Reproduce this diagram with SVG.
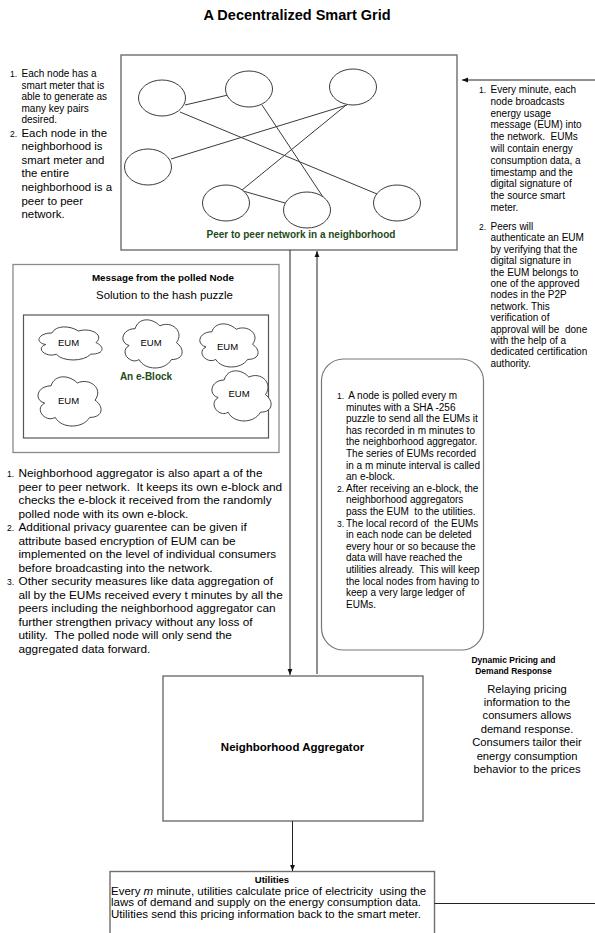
<svg xmlns="http://www.w3.org/2000/svg" width="595" height="933" viewBox="0 0 595 933">
<style>
text{font-family:"Liberation Sans",Arial,sans-serif;fill:#000;white-space:pre}
.b{font-weight:bold}
.g{fill:#1f4a1a;font-weight:bold;font-size:10px}
.box{fill:#fff;stroke:#6e6e6e;stroke-width:1.4}
.ell{fill:#fff;stroke:#3c3c3c;stroke-width:1}
.edge{stroke:#3a3a3a;stroke-width:1;fill:none}
.conn{stroke:#222;stroke-width:1;fill:none}
.cloud{fill:#fff;stroke:#444;stroke-width:1}
.num{font-size:8.5px}
.t10{font-size:10px}
.eum{font-size:9.5px}
</style>
<defs>
<marker id="ah" viewBox="0 0 10 10" refX="10" refY="5" markerWidth="6" markerHeight="6" orient="auto" markerUnits="userSpaceOnUse">
<path d="M0,1 L10,5 L0,9 Z" fill="#111"/>
</marker>
<path id="cl" vector-effect="non-scaling-stroke" d="M25 25 C5 25 0 50 16 55 C0 66 18 90 31 80 C40 100 70 100 80 80 C100 80 100 60 87.5 50 C100 30 80 10 62.5 20 C50 5 30 5 25 25 Z"/>
</defs>
<rect width="595" height="933" fill="#fff"/>

<text id="title" class="b" x="297" y="20" font-size="14.5" text-anchor="middle">A Decentralized Smart Grid</text>

<g id="p2p-network">
<rect class="box" x="121" y="55" width="336" height="195"/>
<g id="p2p-edges">
<line class="edge" x1="185" y1="105" x2="228" y2="95"/>
<line class="edge" x1="180" y1="112" x2="377" y2="194"/>
<line class="edge" x1="262" y1="105" x2="323" y2="197"/>
<line class="edge" x1="171" y1="159" x2="347" y2="105"/>
<line class="edge" x1="345" y1="106" x2="242" y2="190"/>
<line class="edge" x1="243" y1="191" x2="285" y2="203"/>
</g>
<ellipse id="n1" class="ell" cx="162" cy="98" rx="23.5" ry="18"/>
<ellipse id="n2" class="ell" cx="249" cy="89" rx="23.5" ry="18"/>
<ellipse id="n3" class="ell" cx="353" cy="87" rx="23.5" ry="18"/>
<ellipse id="n4" class="ell" cx="148" cy="167" rx="23.5" ry="18"/>
<ellipse id="n5" class="ell" cx="226" cy="203" rx="23.5" ry="18"/>
<ellipse id="n6" class="ell" cx="307" cy="210" rx="23.5" ry="18"/>
<ellipse id="n7" class="ell" cx="397" cy="203" rx="23.5" ry="18"/>
<text class="g" x="301" y="238" text-anchor="middle">Peer to peer network in a neighborhood</text>
</g>

<g id="note-left-top">
<text class="num" x="10" y="77">1.</text>
<text class="t10" x="21.5" y="77">Each node has a</text>
<text class="t10" x="21.5" y="88.5">smart meter that is</text>
<text class="t10" x="21.5" y="100">able to generate as</text>
<text class="t10" x="21.5" y="111.5">many key pairs</text>
<text class="t10" x="21.5" y="123">desired.</text>
<text class="num" x="10" y="136.5">2.</text>
<g font-size="11.4">
<text x="21.5" y="136.5">Each node in the</text>
<text x="21.5" y="150.1">neighborhood is</text>
<text x="21.5" y="163.7">smart meter and</text>
<text x="21.5" y="177.3">the entire</text>
<text x="21.5" y="190.9">neighborhood is a</text>
<text x="21.5" y="204.5">peer to peer</text>
<text x="21.5" y="218.1">network.</text>
</g>
</g>

<g id="note-right-top">
<text class="num" x="479" y="93">1.</text>
<g class="t10">
<text x="490.5" y="93">Every minute, each</text>
<text x="490.5" y="104.8">node broadcasts</text>
<text x="490.5" y="116.6">energy usage</text>
<text x="490.5" y="128.4">message (EUM) into</text>
<text x="490.5" y="140.2">the network.  EUMs</text>
<text x="490.5" y="152">will contain energy</text>
<text x="490.5" y="163.8">consumption data, a</text>
<text x="490.5" y="175.6">timestamp and the</text>
<text x="490.5" y="187.4">digital signature of</text>
<text x="490.5" y="199.2">the source smart</text>
<text x="490.5" y="211">meter.</text>
</g>
<text class="num" x="479" y="230">2.</text>
<g class="t10">
<text x="490.5" y="230">Peers will</text>
<text x="490.5" y="241.4">authenticate an EUM</text>
<text x="490.5" y="252.8">by verifying that the</text>
<text x="490.5" y="264.2">digital signature in</text>
<text x="490.5" y="275.6">the EUM belongs to</text>
<text x="490.5" y="287">one of the approved</text>
<text x="490.5" y="298.4">nodes in the P2P</text>
<text x="490.5" y="309.8">network. This</text>
<text x="490.5" y="321.2">verification of</text>
<text x="490.5" y="332.6">approval will be  done</text>
<text x="490.5" y="344">with the help of a</text>
<text x="490.5" y="355.4">dedicated certification</text>
<text x="490.5" y="366.8">authority.</text>
</g>
</g>

<g id="polled-message">
<rect x="13" y="264.5" width="266" height="188" fill="#fff" stroke="#8a8a8a" stroke-width="1.3"/>
<text class="b" x="163" y="280.5" font-size="9.8" text-anchor="middle">Message from the polled Node</text>
<text x="164.5" y="299" font-size="11.4" text-anchor="middle">Solution to the hash puzzle</text>
</g>

<g id="e-block">
<rect x="23.5" y="315" width="245" height="123" fill="#fff" stroke="#555" stroke-width="1.2"/>
<text class="g" x="146" y="379.5" text-anchor="middle">An e-Block</text>
<g id="eum1"><use href="#cl" class="cloud" transform="translate(34.4,323.3) scale(0.704,0.386)"/><text class="eum" x="68.5" y="346" text-anchor="middle">EUM</text></g>
<g id="eum2"><use href="#cl" class="cloud" transform="translate(118.6,314.6) scale(0.661,0.562)"/><text class="eum" x="151" y="346" text-anchor="middle">EUM</text></g>
<g id="eum3"><use href="#cl" class="cloud" transform="translate(195.6,319.2) scale(0.65,0.503)"/><text class="eum" x="227.5" y="350" text-anchor="middle">EUM</text></g>
<g id="eum4"><use href="#cl" class="cloud" transform="translate(33.4,371.5) scale(0.704,0.574)"/><text class="eum" x="68.5" y="404" text-anchor="middle">EUM</text></g>
<g id="eum5"><use href="#cl" class="cloud" transform="translate(207.6,365.4) scale(0.661,0.585)"/><text class="eum" x="239" y="397" text-anchor="middle">EUM</text></g>
</g>

<g id="note-left-bottom" font-size="11.8">
<text class="num" x="7" y="477">1.</text>
<text x="18.5" y="477">Neighborhood aggregator is also apart a of the</text>
<text x="18.5" y="490.5">peer to peer network.  It keeps its own e-block and</text>
<text x="18.5" y="504">checks the e-block it received from the randomly</text>
<text x="18.5" y="517.5">polled node with its own e-block.</text>
<text class="num" x="7" y="531">2.</text>
<text x="18.5" y="531">Additional privacy guarentee can be given if</text>
<text x="18.5" y="544.5">attribute based encryption of EUM can be</text>
<text x="18.5" y="558">implemented on the level of individual consumers</text>
<text x="18.5" y="571.5">before broadcasting into the network.</text>
<text class="num" x="7" y="585">3.</text>
<text x="18.5" y="585">Other security measures like data aggregation of</text>
<text x="18.5" y="598.5">all by the EUMs received every t minutes by all the</text>
<text x="18.5" y="612">peers including the neighborhood aggregator can</text>
<text x="18.5" y="625.5">further strengthen privacy without any loss of</text>
<text x="18.5" y="639">utility.  The polled node will only send the</text>
<text x="18.5" y="652.5">aggregated data forward.</text>
</g>

<g id="note-polling">
<rect x="321.5" y="359" width="162" height="291" rx="22" ry="22" fill="#fff" stroke="#777" stroke-width="1.2"/>
<g class="t10">
<text class="num" x="337" y="399">1.</text>
<text x="346" y="399"> A node is polled every m</text>
<text x="346" y="410.6">minutes with a SHA -256</text>
<text x="346" y="422.2">puzzle to send all the EUMs it</text>
<text x="346" y="433.8">has recorded in m minutes to</text>
<text x="346" y="445.4">the neighborhood aggregator.</text>
<text x="346" y="457">The series of EUMs recorded</text>
<text x="346" y="468.6">in a m minute interval is called</text>
<text x="346" y="480.2">an e-block.</text>
<text class="num" x="337" y="491.8">2.</text>
<text x="346" y="491.8">After receiving an e-block, the</text>
<text x="346" y="503.4">neighborhood aggregators</text>
<text x="346" y="515">pass the EUM  to the utilities.</text>
<text class="num" x="337" y="526.6">3.</text>
<text x="346" y="526.6">The local record of  the EUMs</text>
<text x="346" y="538.2">in each node can be deleted</text>
<text x="346" y="549.8">every hour or so because the</text>
<text x="346" y="561.4">data will have reached the</text>
<text x="346" y="573">utilities already.  This will keep</text>
<text x="346" y="584.6">the local nodes from having to</text>
<text x="346" y="596.2">keep a very large ledger of</text>
<text x="346" y="607.8">EUMs.</text>
</g>
</g>

<g id="note-pricing">
<text class="b" x="513.5" y="662.5" font-size="8.5" text-anchor="middle">Dynamic Pricing and</text>
<text class="b" x="513.5" y="673.5" font-size="8.5" text-anchor="middle">Demand Response</text>
<g font-size="11.2" text-anchor="middle">
<text x="527" y="692.5">Relaying pricing</text>
<text x="527" y="705.9">information to the</text>
<text x="527" y="719.3">consumers allows</text>
<text x="527" y="732.7">demand response.</text>
<text x="527" y="746.1">Consumers tailor their</text>
<text x="527" y="759.5">energy consumption</text>
<text x="527" y="772.9">behavior to the prices</text>
</g>
</g>

<g id="aggregator">
<rect class="box" x="163" y="676" width="260" height="145"/>
<text class="b" x="292.5" y="750.5" font-size="11.5" text-anchor="middle">Neighborhood Aggregator</text>
</g>

<g id="utilities">
<rect class="box" x="110" y="871.5" width="324.5" height="70"/>
<text class="b" x="272" y="882.5" font-size="9.5" text-anchor="middle">Utilities</text>
<g font-size="11.5">
<text x="111" y="894.5">Every <tspan font-style="italic">m</tspan> minute, utilities calculate price of electricity  using the</text>
<text x="111" y="906.2">laws of demand and supply on the energy consumption data.</text>
<text x="111" y="917.9">Utilities send this pricing information back to the smart meter.</text>
</g>
</g>

<g id="connectors">
<path class="conn" d="M290,250 V675" marker-end="url(#ah)"/>
<path class="conn" d="M317,674 V251" marker-end="url(#ah)"/>
<path class="conn" d="M292.5,821 V871" marker-end="url(#ah)"/>
<path class="conn" d="M434.5,903.5 H602 V80 H462" marker-end="url(#ah)"/>
</g>
</svg>
